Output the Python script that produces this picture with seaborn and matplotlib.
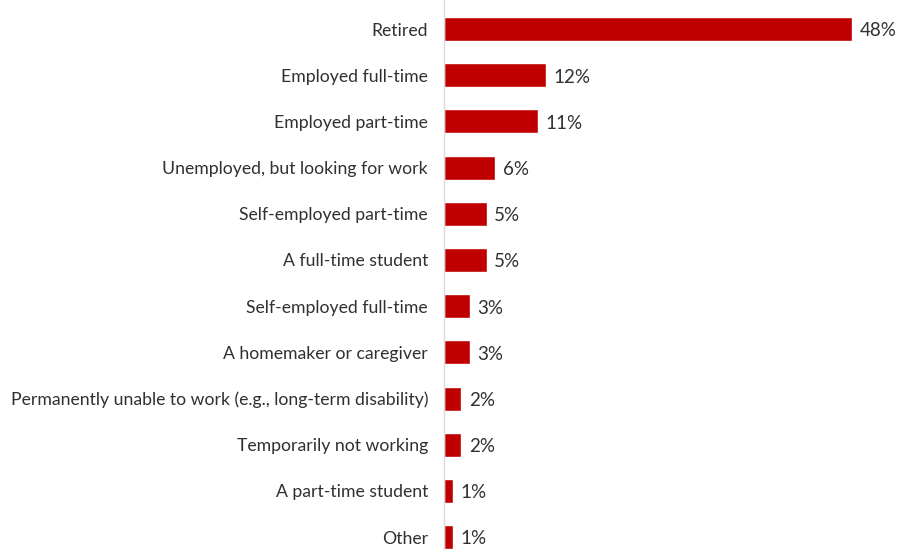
import matplotlib
matplotlib.use("Agg")
import matplotlib.pyplot as plt
import seaborn as sns
import pandas as pd

categories = [
    "Retired",
    "Employed full-time",
    "Employed part-time",
    "Unemployed, but looking for work",
    "Self-employed part-time",
    "A full-time student",
    "Self-employed full-time",
    "A homemaker or caregiver",
    "Permanently unable to work (e.g., long-term disability)",
    "Temporarily not working",
    "A part-time student",
    "Other",
]
percentages = [48, 12, 11, 6, 5, 5, 3, 3, 2, 2, 1, 1]

df = pd.DataFrame({"status": categories, "pct": percentages})

sns.set_theme(style="white")
plt.rcParams["font.family"] = ["Lato", "DejaVu Sans"]

fig = plt.figure(figsize=(8.99, 5.5), dpi=100)
ax = fig.add_axes([444 / 899, 0, 1 - 444 / 899, 1])

sns.barplot(data=df, x="pct", y="status", order=categories, color="#C00000",
            width=0.52, saturation=1, ax=ax)

ax.set_xlim(0, 53.5)
ax.set_ylim(11.28, -0.63)
ax.set_xlabel("")
ax.set_ylabel("")
ax.set_xticks([])

for s in ["top", "right", "bottom"]:
    ax.spines[s].set_visible(False)
ax.spines["left"].set_color("#d9d9d9")
ax.spines["left"].set_linewidth(1)

ax.tick_params(axis="y", length=0, pad=11.5, labelsize=12.7, labelcolor="#303030")

for i, v in enumerate(percentages):
    ax.text(v + 0.9, i + 0.04, f"{v}%", va="center", ha="left", fontsize=13.5, color="#303030")

fig.savefig("out.png", dpi=100)
